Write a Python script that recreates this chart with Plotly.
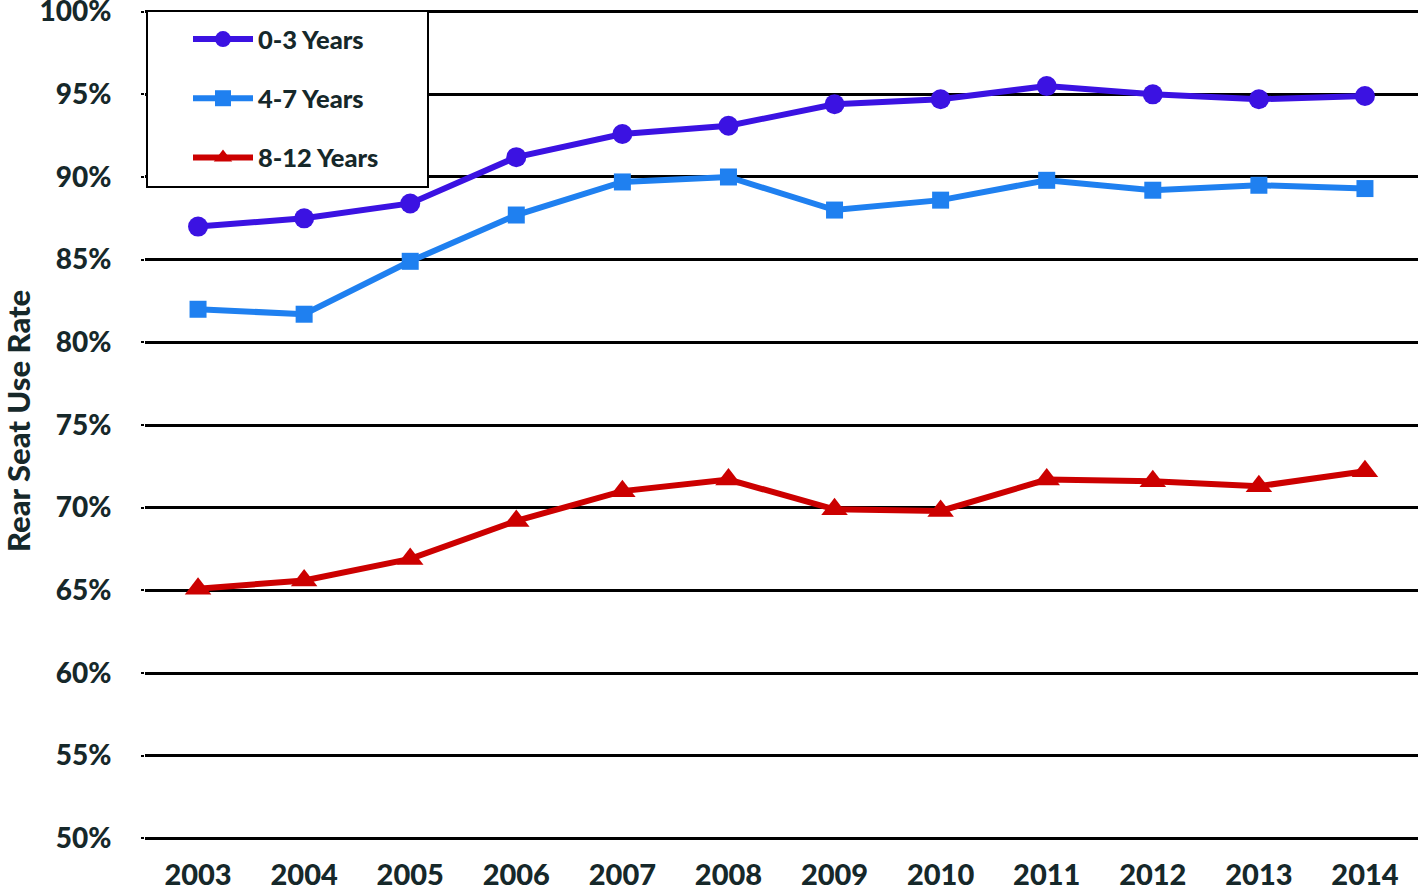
import plotly.graph_objects as go

years = ["2003", "2004", "2005", "2006", "2007", "2008", "2009", "2010", "2011", "2012", "2013", "2014"]
age_0_3 = [87.0, 87.5, 88.4, 91.2, 92.6, 93.1, 94.4, 94.7, 95.5, 95.0, 94.7, 94.9]
age_4_7 = [82.0, 81.7, 84.9, 87.7, 89.7, 90.0, 88.0, 88.6, 89.8, 89.2, 89.5, 89.3]
age_8_12 = [65.1, 65.6, 66.9, 69.2, 71.0, 71.7, 69.9, 69.8, 71.7, 71.6, 71.3, 72.2]
y_ticks = [50, 55, 60, 65, 70, 75, 80, 85, 90, 95, 100]
y_tick_labels = [f"{v}%" for v in y_ticks]
y_title = "Rear Seat Use Rate"

FONT = "Lato"
TXT = "#16282a"
WEIGHT = 900

W, H = 1418, 891
L, R, T, B = 145, 0, 10, 51
pw, ph = W - L - R, H - T - B
Y0, Y1 = 49.9, 100.1

series = [
    ("0-3 Years", age_0_3, "#3b12e2", "circle", 20),
    ("4-7 Years", age_4_7, "#1f80f0", "square", 17),
    ("8-12 Years", age_8_12, "#cc0000", "triangle-up", 23),
]

fig = go.Figure()
for i, (name, vals, col, sym, sz) in enumerate(series):
    fig.add_trace(go.Scatter(
        x=years, y=vals, name=name, mode="lines+markers",
        line=dict(color=col, width=6),
        marker=dict(symbol=sym, size=sz, color=col),
        legendgroup=f"g{i}",
    ))

def px_x(px):
    return (px - L) / pw

def px_y(py):
    return (H - B - py) / ph

fig.add_shape(type="rect", xref="paper", yref="paper",
              x0=px_x(147), x1=px_x(428), y0=px_y(187), y1=px_y(11),
              line=dict(color="black", width=2), fillcolor="white", layer="above")

fig.add_annotation(text=y_title, xref="paper", yref="paper",
                   x=px_x(18), y=px_y(421), xanchor="center", yanchor="middle",
                   textangle=-90, showarrow=False,
                   font=dict(family=FONT, size=31, color=TXT, weight=WEIGHT))

fig.update_layout(
    width=W, height=H,
    margin=dict(l=L, r=R, t=T, b=B),
    paper_bgcolor="white", plot_bgcolor="white",
    font=dict(family=FONT, color=TXT),
    showlegend=True,
    legend=dict(
        x=px_x(188), y=px_y(16), xanchor="left", yanchor="top",
        bgcolor="rgba(0,0,0,0)", borderwidth=0,
        font=dict(family=FONT, size=25.5, color=TXT, weight=WEIGHT),
        itemwidth=60, tracegroupgap=23,
    ),
    xaxis=dict(
        type="category", range=[-0.5, 11.5], showgrid=False, zeroline=False,
        showline=False, ticks="", automargin=False,
        tickfont=dict(family=FONT, size=29, color=TXT, weight=WEIGHT),
        ticklabelstandoff=15,
    ),
    yaxis=dict(
        range=[Y0, Y1], tickmode="array", tickvals=y_ticks, ticktext=y_tick_labels,
        showgrid=True, gridcolor="black", gridwidth=2.5, zeroline=False,
        showline=False, ticks="outside", ticklen=3, tickwidth=2, tickcolor="black",
        automargin=False, ticklabeloverflow="allow",
        tickfont=dict(family=FONT, size=28, color=TXT, weight=WEIGHT),
        ticklabelstandoff=24,
    ),
)

fig.write_html("out.html", config={"displayModeBar": False},
               post_script="document.body.style.margin='0';document.body.style.overflow='hidden';")
